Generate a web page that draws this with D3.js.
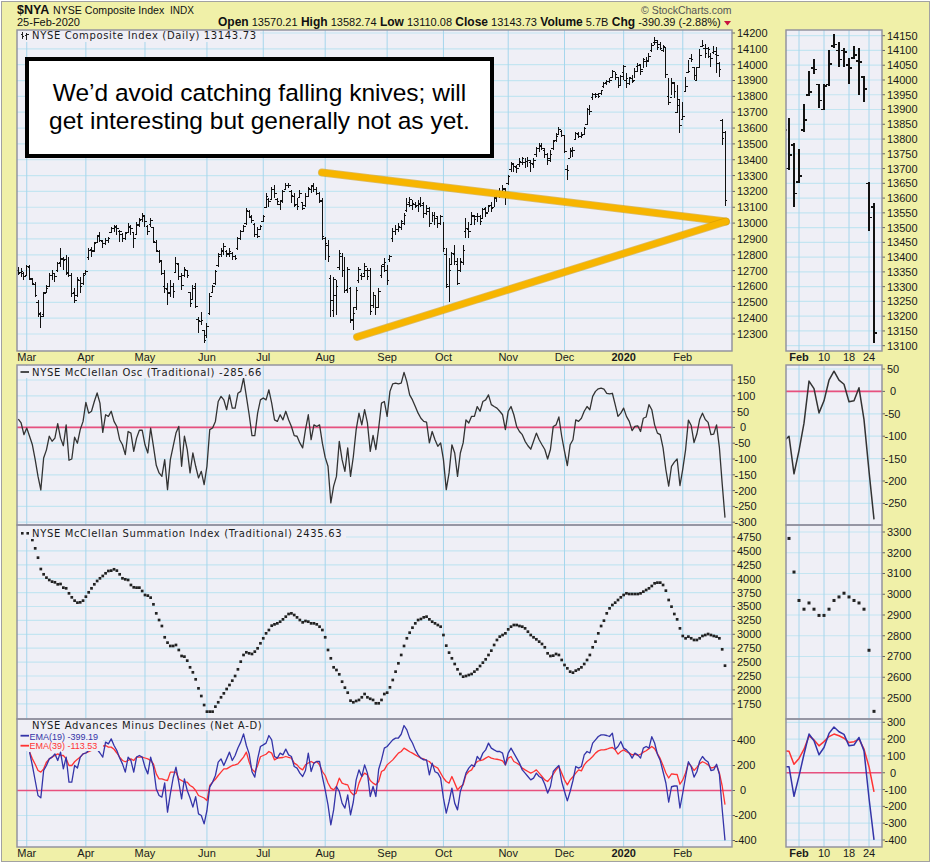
<!DOCTYPE html>
<html>
<head>
<meta charset="utf-8">
<title>$NYA NYSE Composite Index</title>
<script src="https://cdn.jsdelivr.net/npm/d3@7"></script>
<style>
  body { margin: 0; background: #fff; }
  text { font-family: Arial, "Liberation Sans", Helvetica, sans-serif; }
  .ptitle { font-family: "DejaVu Sans", Verdana, sans-serif; letter-spacing: 0.65px; }
</style>
</head>
<body>
<svg id="chart" width="932" height="865"></svg>
<script>
// ---------------- data ----------------
var holidays = ["2019-04-19", "2019-05-27", "2019-07-04", "2019-09-02", "2019-11-28",
                "2019-12-25", "2020-01-01", "2020-01-20", "2020-02-17"];

var priceOpen = [
12700,12690,12685,12670,12720,12645,12615,12500,12420,12420,
12560,12600,12670,12680,12700,12750,12770,12770,12690,12670,
12560,12540,12640,12620,12680,12780,12835,12825,12880,12920,
12885,12870,12890,12940,12965,12975,12950,12930,12905,12940,
12970,12940,12930,12990,13020,13040,12980,12990,12970,12880,
12820,12760,12600,12580,12560,12600,12690,12740,12660,12670,
12700,12560,12520,12600,12390,12380,12320,12290,12430,12560,
12620,12730,12800,12820,12820,12800,12810,12790,12840,12900,
12950,13000,13075,13035,12990,12930,12960,13010,13100,13150,
13150,13210,13150,13120,13140,13210,13235,13200,13170,13120,
13160,13130,13110,13170,13215,13235,13210,13190,13140,12900,
12860,12650,12450,12540,12720,12790,12700,12580,12590,12390,
12470,12640,12670,12680,12700,12700,12480,12540,12470,12670,
12740,12700,12770,12900,12950,12960,12970,13000,13080,13130,
13110,13120,13110,13125,13125,13060,13090,13000,13050,13040,
13000,13040,12800,12600,12740,12800,12740,12700,12750,12950,
12960,12990,13040,13040,13040,13030,13090,13070,13114,13100,
13160,13190,13180,13210,13250,13340,13370,13350,13370,13380,
13380,13390,13380,13370,13430,13470,13490,13460,13430,13410,
13470,13520,13560,13580,13550,13340,13410,13460,13530,13560,
13545,13560,13620,13720,13790,13810,13810,13815,13860,13890,
13893,13920,13960,13920,13870,13950,13900,13880,13910,13900,
13990,14000,13970,14020,14025,14090,14140,14140,14130,14090,
14110,13800,13790,13890,13700,13780,13655,13830,13950,14040,
13985,13900,13985,14115,14100,14100,14050,14075,14065,14010,
13650,13570.21];

var priceHigh = [
12725,12714,12693,12735,12735,12651,12630,12514,12441,12567,
12609,12683,12704,12683,12756,12840,12788,12798,12788,12683,
12588,12662,12662,12683,12704,12840,12851,12883,12925,12946,
12893,12904,12914,12977,12988,12988,12956,12935,12946,12998,
12988,12946,13009,13030,13061,13051,12988,13030,12977,12893,
12830,12767,12704,12620,12641,12620,12788,12746,12683,12725,
12704,12567,12609,12620,12409,12441,12325,12367,12556,12609,
12704,12809,12840,12872,12830,12840,12819,12798,12914,12956,
12988,13093,13082,13051,12998,12977,12988,13051,13188,13156,
13230,13240,13156,13146,13209,13251,13255,13209,13188,13156,
13209,13135,13188,13230,13240,13251,13230,13198,13156,12914,
12893,12672,12662,12641,12830,12809,12788,12725,12598,12472,
12598,12725,12683,12746,12714,12715,12567,12546,12588,12736,
12778,12736,12799,12967,12988,12999,13020,13062,13156,13167,
13146,13135,13146,13167,13135,13114,13104,13072,13072,13041,
13051,13009,12841,12778,12820,12862,12778,12778,12862,13030,
13009,13072,13051,13062,13051,13093,13104,13114,13135,13167,
13199,13220,13241,13220,13304,13388,13377,13367,13409,13419,
13409,13419,13398,13409,13483,13504,13504,13472,13440,13461,
13525,13567,13609,13588,13556,13367,13472,13483,13577,13577,
13577,13609,13724,13746,13819,13819,13819,13840,13893,13903,
13914,13966,13956,13924,13935,13998,13945,13924,13935,13977,
14009,13998,14040,14051,14072,14135,14177,14156,14145,14124,
14114,13914,13914,13893,13870,13785,13765,13920,14030,14070,
13985,13985,14100,14155,14130,14110,14075,14115,14110,14015,
13655,13582.74];

var priceLow = [
12672,12662,12641,12672,12641,12609,12535,12409,12335,12409,
12556,12598,12641,12630,12693,12725,12704,12672,12662,12535,
12493,12535,12556,12609,12672,12767,12788,12819,12872,12883,
12840,12861,12872,12935,12946,12925,12883,12883,12893,12935,
12925,12840,12925,12977,13009,12977,12925,12977,12872,12819,
12746,12672,12556,12483,12535,12525,12683,12641,12577,12662,
12651,12472,12514,12462,12304,12357,12241,12272,12420,12556,
12609,12725,12788,12798,12788,12788,12767,12767,12830,12893,
12946,12988,13030,12998,12914,12904,12956,13009,13093,13103,
13146,13156,13114,13082,13125,13209,13219,13125,13103,13082,
13156,13082,13103,13167,13188,13198,13177,13125,12893,12767,
12756,12409,12409,12420,12704,12662,12556,12556,12367,12325,
12451,12620,12641,12662,12641,12420,12462,12420,12462,12651,
12694,12609,12757,12883,12925,12946,12957,12988,13072,13104,
13083,13093,13072,13104,13030,13051,12978,13009,12988,12967,
12988,12820,12588,12504,12736,12736,12609,12694,12736,12904,
12904,12988,12988,13009,12988,13030,13041,13072,13072,13104,
13135,13156,13177,13114,13241,13325,13325,13314,13356,13367,
13346,13356,13325,13346,13419,13451,13461,13409,13367,13388,
13461,13514,13556,13546,13440,13272,13409,13419,13525,13535,
13535,13556,13619,13682,13777,13788,13788,13809,13851,13872,
13882,13914,13903,13851,13872,13903,13851,13872,13882,13914,
13956,13935,13977,13987,14019,14082,14124,14093,14093,14082,
13914,13746,13809,13788,13695,13570,13650,13825,13945,14020,
13905,13900,13980,14110,14045,14045,13985,14070,13950,13925,
13490,13110.08];

var priceClose = [
12683,12693,12662,12725,12651,12620,12546,12430,12409,12556,
12588,12672,12683,12662,12746,12777,12767,12683,12672,12556,
12514,12641,12598,12672,12693,12830,12819,12872,12914,12893,
12872,12893,12904,12967,12977,12967,12946,12904,12935,12977,
12967,12904,12988,13019,13051,13009,12946,13019,12883,12830,
12767,12683,12588,12556,12598,12567,12746,12662,12609,12704,
12672,12493,12588,12472,12388,12388,12262,12346,12535,12598,
12693,12788,12830,12851,12809,12819,12788,12777,12904,12946,
12977,13082,13040,13019,12925,12914,12977,13040,13167,13135,
13209,13188,13135,13135,13198,13240,13240,13177,13114,13103,
13188,13093,13167,13219,13230,13209,13188,13135,12914,12872,
12788,12514,12641,12600,12809,12700,12577,12704,12388,12430,
12577,12704,12662,12725,12662,12440,12546,12470,12570,12725,
12750,12640,12790,12946,12957,12980,13009,13051,13120,13146,
13125,13104,13120,13114,13062,13072,12999,13051,13030,12999,
13041,12841,12610,12700,12810,12757,12620,12757,12830,12967,
12946,13051,13020,13041,13009,13083,13062,13104,13093,13156,
13188,13177,13220,13160,13293,13377,13356,13346,13388,13409,
13388,13398,13377,13398,13472,13483,13472,13430,13398,13430,
13514,13546,13588,13556,13451,13335,13451,13461,13567,13546,
13556,13598,13714,13703,13809,13798,13800,13835,13880,13893,
13900,13960,13935,13870,13924,13990,13910,13920,13893,13956,
13998,13956,14030,14019,14051,14124,14150,14110,14100,14114,
13935,13760,13880,13830,13745,13615,13675,13865,13960,14035,
13930,13980,14055,14120,14070,14095,14040,14085,14060,13970,
13534.12,13143.73];

var mcclellanOsc = [
26,14,-23,-2,-28,-55,-102,-155,-198,-97,
-71,-28,-44,-34,12,-34,-58,8,-104,-100,
-31,-50,-7,19,79,45,51,82,109,77,
-16,40,35,51,19,3,-39,-55,-86,-13,
-18,-76,-34,-9,-9,-55,-81,-2,-60,-120,
-144,-155,-102,-197,-102,-60,-18,3,-123,-28,
-70,-144,-81,-123,-160,-139,-181,-123,-7,-2,
19,82,98,87,56,103,61,61,108,114,
156,98,40,-26,-26,45,87,93,87,119,
77,24,19,40,24,51,24,3,-26,-28,
-49,-65,-7,40,-39,8,3,8,-50,-95,
-123,-239,-186,-155,-44,-102,-139,-65,-155,-92,
-7,45,8,56,14,-76,-25,-70,-2,77,
82,35,114,138,140,138,140,174,145,103,
87,66,45,29,19,17,-49,-13,-39,-60,
-49,-102,-197,-144,-55,-81,-155,-81,-49,24,
14,35,35,66,51,82,87,103,72,66,
61,51,40,-7,51,66,40,3,-13,-23,
-44,-58,-69,-44,-18,-39,-55,-70,-100,-70,
3,8,33,-28,-76,-121,-55,-39,24,19,
29,51,66,56,98,114,122,124,121,108,
106,108,72,35,45,61,35,19,-10,3,
5,-13,29,33,72,56,8,-18,-23,-65,
-134,-186,-123,-110,-100,-184,-132,-71,23,6,
-48,-21,25,45,25,16,-23,-21,8,-63,
-178,-285.66];

var summationIndex = [
null,null,null,null,null,4696,4546,4378,4174,4079,
4019,3977,3947,3935,3899,3905,3839,3827,3737,3665,
3605,3569,3575,3605,3677,3755,3827,3899,3959,4007,
4049,4097,4139,4145,4169,4145,4079,4007,3989,3977,
3887,3845,3839,3839,3779,3707,3695,3659,3539,3377,
3257,3149,2946,2850,2790,2790,2808,2718,2610,2598,
2526,2406,2316,2190,2028,1890,1728,1609,1609,1609,
1699,1777,1867,1938,2016,2088,2166,2250,2370,2508,
2628,2676,2658,2646,2688,2748,2838,2928,3017,3077,
3155,3179,3197,3227,3269,3317,3365,3377,3347,3305,
3257,3215,3239,3227,3197,3197,3179,3137,3077,2946,
2718,2568,2406,2358,2280,2148,2040,1950,1806,1777,
1801,1819,1867,1926,1867,1840,1819,1759,1759,1819,
1926,1950,2046,2178,2328,2478,2628,2790,2928,3029,
3119,3197,3257,3275,3305,3317,3269,3227,3197,3167,
3137,2987,2796,2670,2568,2466,2370,2286,2238,2250,
2268,2286,2328,2370,2430,2490,2550,2628,2706,2808,
2898,2958,2987,3017,3089,3137,3167,3167,3149,3137,
3107,3047,2987,2946,2910,2868,2826,2766,2658,2610,
2616,2646,2628,2538,2448,2388,2328,2310,2346,2370,
2406,2466,2538,2628,2766,2868,3017,3149,3245,3377,
3467,3527,3569,3617,3665,3707,3737,3725,3725,3725,
3725,3737,3767,3797,3827,3869,3917,3929,3929,3887,
3785,3617,3497,3365,3269,3107,2970,2928,2958,2928,
2898,2898,2928,2970,2987,3005,2987,2970,2958,2928,
2730,2435.63];

var adEma19 = [
null,null,null,null,307,200,80,-40,-59,160,
200,253,267,293,240,307,173,267,67,67,
200,180,267,293,300,320,330,340,330,300,
267,387,373,413,360,320,260,213,147,267,
240,147,267,280,267,187,133,267,187,13,
-40,-53,60,-173,-27,100,187,67,-67,93,
0,-60,-133,-50,-187,-200,-267,-160,27,67,
120,227,253,200,253,307,240,280,340,387,
453,360,293,150,107,253,352,365,379,440,
405,272,259,299,285,331,285,272,192,179,
139,112,160,299,152,219,232,232,110,5,
-115,-275,-155,32,-8,-101,-141,-35,-195,-90,
85,165,112,205,139,-48,32,-48,170,245,
339,352,379,405,419,420,450,520,485,419,
380,325,285,259,245,245,125,219,150,139,
99,-61,-181,-88,19,-101,-155,-8,59,139,
179,205,192,272,245,299,325,379,339,325,
312,312,299,205,299,339,299,259,219,165,
139,112,85,99,139,112,99,50,-21,32,
152,179,200,72,-8,-83,-8,80,192,179,
192,285,312,300,379,405,432,445,445,440,
432,459,330,352,392,339,325,299,259,299,
285,259,339,352,339,430,380,290,240,150,
60,-93,30,36,36,-140,-20,110,230,190,
107,150,234,272,244,228,160,165,210,130,
-150,-399.19];

var adEma39 = [
null,null,null,null,307,253,210,160,147,173,
227,253,267,280,293,280,280,253,200,200,
230,250,267,293,300,310,320,330,340,350,
355,360,347,347,330,300,267,240,230,240,
253,240,267,267,267,260,253,240,213,133,
93,93,85,80,147,147,147,93,80,67,
67,40,27,0,-40,-50,-60,-80,40,67,
90,120,147,173,173,187,200,205,213,240,
267,307,227,170,147,200,270,280,290,312,
299,245,259,262,264,272,265,259,219,205,
179,165,205,220,232,219,232,205,152,120,
60,19,5,32,99,59,50,45,-10,-35,
-21,59,112,139,125,80,59,45,72,152,
165,205,225,245,272,299,312,339,325,310,
299,285,272,259,253,240,232,205,192,179,
139,100,72,59,112,59,5,30,45,125,
152,165,205,232,240,245,259,272,259,253,
250,245,237,205,259,272,232,220,205,179,
165,152,139,150,165,139,112,85,72,99,
130,165,192,139,85,45,85,110,139,165,
157,205,232,250,272,299,317,325,325,330,
339,344,325,291,312,325,310,299,285,291,
280,290,307,318,335,352,335,295,255,200,
140,100,133,130,128,50,85,140,219,195,
160,185,215,230,220,205,180,185,200,140,
36,-113.53];

// trend lines drawn on the price panel: [trading-day index, price]
var trendLines = [
  [[107.85, 13320], [251.3, 13010]],
  [[120.3, 12281], [251.3, 13010]]
];

// axis tick labels
var priceTicks = [12300,12400,12500,12600,12700,12800,12900,13000,13100,13200,13300,13400,13500,13600,13700,13800,13900,14000,14100,14200];
var priceZoomTicks = [13100,13150,13200,13250,13300,13350,13400,13450,13500,13550,13600,13650,13700,13750,13800,13850,13900,13950,14000,14050,14100,14150];
var oscTicks = [-300,-250,-200,-150,-100,-50,0,50,100,150];
var oscZoomTicks = [-250,-200,-150,-100,-50,0,50];
var sumTicks = [1750,2000,2250,2500,2750,3000,3250,3500,3750,4000,4250,4500,4750];
var sumZoomTicks = [2500,2600,2700,2800,2900,3000,3100,3200,3300];
var adTicks = [-400,-200,0,200,400];
var adZoomTicks = [-400,-300,-200,-100,0,100,200,300];

var annotationLines = ["We\u2019d avoid catching falling knives; will",
                       "get interesting but generally not as yet."];

// ---------------- drawing ----------------
var YELLOW = "#f0f0a8", PANEL = "#efeff6", GRID = "#c4e5f1", VGRID = "#a6d6ec",
    BORDER = "#8e8e9c", ZERO = "#e8507e", INK = "#1a1a1a";

var locale = d3.formatLocale({ decimal: ".", thousands: ",", grouping: [3], currency: ["$", ""], minus: "-" });
var f2 = locale.format(".2f");

var svg = d3.select("#chart");
svg.append("rect").attr("width", 932).attr("height", 865).attr("fill", "#fff");
svg.append("rect").attr("x", 1.5).attr("y", 1.5).attr("width", 928).attr("height", 860)
  .attr("fill", YELLOW).attr("stroke", "#a2a2a2");

var N = priceClose.length;
var fmtDay = d3.timeFormat("%Y-%m-%d");
var days = d3.timeDay.range(new Date(2019, 1, 26), new Date(2020, 1, 26)).filter(function (d) {
  return d.getDay() > 0 && d.getDay() < 6 && holidays.indexOf(fmtDay(d)) < 0;
});

var xMain = d3.scaleLinear().domain([0, N - 1]).range([18.3, 725]);
var xZoom = d3.scaleLinear().domain([N - 21, N - 1]).range([774, 874]);
var mainL = 17, mainR = 732, zoomL = 786, zoomR = 882;

var monthIdx = d3.range(1, N).filter(function (i) { return days[i].getMonth() !== days[i - 1].getMonth(); });
var weekIdx = d3.range(1, N).filter(function (i) {
  return days[i].getDay() < days[i - 1].getDay() && xZoom(i) > zoomL;
});

var rows = [
  { key: "price", top: 30, bottom: 351,
    mainY: d3.scaleLinear().domain([12300, 14200]).range([334, 33]),
    zoomY: d3.scaleLinear().domain([13100, 14150]).range([345.7, 35.7]),
    mainTicks: priceTicks, zoomTicks: priceZoomTicks },
  { key: "osc", top: 365, bottom: 525,
    mainY: d3.scaleLinear().domain([-300, 150]).range([522.2, 380]),
    zoomY: d3.scaleLinear().domain([-250, 50]).range([503.4, 369]),
    mainTicks: oscTicks, zoomTicks: oscZoomTicks },
  { key: "sum", top: 525, bottom: 719,
    mainY: d3.scaleLinear().domain([1750, 4750]).range([703.8, 537]),
    zoomY: d3.scaleLinear().domain([2500, 3300]).range([698, 532]),
    mainTicks: sumTicks, zoomTicks: sumZoomTicks },
  { key: "ad", top: 719, bottom: 847,
    mainY: d3.scaleLinear().domain([-400, 400]).range([840.5, 740.5]),
    zoomY: d3.scaleLinear().domain([-400, 300]).range([840, 722.3]),
    mainTicks: adTicks, zoomTicks: adZoomTicks }
];

function makePanel(id, x0, x1, y0, y1, ys, ticks, vIdx, xs) {
  svg.append("clipPath").attr("id", id).append("rect")
    .attr("x", x0).attr("y", y0).attr("width", x1 - x0).attr("height", y1 - y0);
  svg.append("rect").attr("x", x0).attr("y", y0).attr("width", x1 - x0).attr("height", y1 - y0)
    .attr("fill", PANEL);
  var grid = svg.append("g").attr("clip-path", "url(#" + id + ")");
  grid.selectAll("line.h").data(ticks).enter().append("line").attr("class", "h")
    .attr("x1", x0).attr("x2", x1)
    .attr("y1", function (d) { return ys(d); }).attr("y2", function (d) { return ys(d); })
    .attr("stroke", GRID).attr("stroke-width", 1.2);
  grid.selectAll("line.v").data(vIdx).enter().append("line").attr("class", "v")
    .attr("x1", function (d) { return xs(d); }).attr("x2", function (d) { return xs(d); })
    .attr("y1", y0).attr("y2", y1)
    .attr("stroke", VGRID).attr("stroke-width", 1);
  var ax = svg.append("g");
  ax.selectAll("line").data(ticks).enter().append("line")
    .attr("x1", x1).attr("x2", x1 + 3)
    .attr("y1", function (d) { return ys(d); }).attr("y2", function (d) { return ys(d); })
    .attr("stroke", "#666");
  ax.selectAll("text").data(ticks).enter().append("text")
    .attr("x", function (d) { return x1 + 5 + (d < 0 ? -2.5 : 0) + (d === 0 ? 3 : 0); })
    .attr("y", function (d) { return ys(d); })
    .attr("dy", "0.36em").attr("font-size", 11).attr("fill", INK)
    .text(function (d) { return d; });
  return svg.append("g").attr("clip-path", "url(#" + id + ")");
}

rows.forEach(function (r) {
  r.mainG = makePanel("clip-m-" + r.key, mainL, mainR, r.top, r.bottom, r.mainY, r.mainTicks, monthIdx, xMain);
  r.zoomG = makePanel("clip-z-" + r.key, zoomL, zoomR, r.top, r.bottom, r.zoomY, r.zoomTicks, weekIdx, xZoom);
});

// ---- price bars ----
function drawBars(g, xs, ys, sw, tk) {
  var idx = d3.range(N);
  var b = g.append("g").attr("stroke", "#111").attr("stroke-width", sw).attr("shape-rendering", "crispEdges");
  b.selectAll("line.hl").data(idx).enter().append("line")
    .attr("x1", function (i) { return xs(i); }).attr("x2", function (i) { return xs(i); })
    .attr("y1", function (i) { return ys(priceHigh[i]); }).attr("y2", function (i) { return ys(priceLow[i]); });
  b.selectAll("line.o").data(idx).enter().append("line")
    .attr("x1", function (i) { return xs(i) - tk; }).attr("x2", function (i) { return xs(i); })
    .attr("y1", function (i) { return ys(priceOpen[i]); }).attr("y2", function (i) { return ys(priceOpen[i]); });
  b.selectAll("line.c").data(idx).enter().append("line")
    .attr("x1", function (i) { return xs(i); }).attr("x2", function (i) { return xs(i) + tk; })
    .attr("y1", function (i) { return ys(priceClose[i]); }).attr("y2", function (i) { return ys(priceClose[i]); });
}
drawBars(rows[0].mainG, xMain, rows[0].mainY, 1, 2);
drawBars(rows[0].zoomG, xZoom, rows[0].zoomY, 1.6, 3);

// ---- lines ----
function drawSeries(g, xs, ys, values, color, width) {
  var line = d3.line()
    .defined(function (d) { return d != null; })
    .x(function (d, i) { return xs(i); })
    .y(function (d) { return ys(d); });
  g.append("path").datum(values).attr("d", line)
    .attr("fill", "none").attr("stroke", color).attr("stroke-width", width)
    .attr("stroke-linejoin", "round");
}
function zeroLine(g, x0, x1, ys) {
  g.append("line").attr("x1", x0).attr("x2", x1).attr("y1", ys(0)).attr("y2", ys(0))
    .attr("stroke", ZERO).attr("stroke-width", 1.6);
}

zeroLine(rows[1].mainG, mainL, mainR, rows[1].mainY);
zeroLine(rows[1].zoomG, zoomL, zoomR, rows[1].zoomY);
drawSeries(rows[1].mainG, xMain, rows[1].mainY, mcclellanOsc, "#333", 1.3);
drawSeries(rows[1].zoomG, xZoom, rows[1].zoomY, mcclellanOsc, "#333", 1.5);

function drawDots(g, xs, ys, s) {
  var idx = d3.range(N).filter(function (i) { return summationIndex[i] != null; });
  g.selectAll("rect.dot").data(idx).enter().append("rect")
    .attr("x", function (i) { return xs(i) - s / 2; })
    .attr("y", function (i) { return ys(summationIndex[i]) - s / 2; })
    .attr("width", s).attr("height", s).attr("fill", "#222");
}
drawDots(rows[2].mainG, xMain, rows[2].mainY, 2.7);
drawDots(rows[2].zoomG, xZoom, rows[2].zoomY, 3);

zeroLine(rows[3].mainG, mainL, mainR, rows[3].mainY);
zeroLine(rows[3].zoomG, zoomL, zoomR, rows[3].zoomY);
drawSeries(rows[3].mainG, xMain, rows[3].mainY, adEma39, "#ff3333", 1.3);
drawSeries(rows[3].mainG, xMain, rows[3].mainY, adEma19, "#3434a8", 1.3);
drawSeries(rows[3].zoomG, xZoom, rows[3].zoomY, adEma39, "#ff3333", 1.5);
drawSeries(rows[3].zoomG, xZoom, rows[3].zoomY, adEma19, "#3434a8", 1.5);

// ---- trend lines ----
var tl = rows[0].mainG.append("g");
trendLines.forEach(function (seg) {
  tl.append("line")
    .attr("x1", xMain(seg[0][0])).attr("y1", rows[0].mainY(seg[0][1]))
    .attr("x2", xMain(seg[1][0])).attr("y2", rows[0].mainY(seg[1][1]))
    .attr("stroke", "#c99400").attr("stroke-width", 8).attr("stroke-linecap", "round").attr("opacity", 0.55);
  tl.append("line")
    .attr("x1", xMain(seg[0][0])).attr("y1", rows[0].mainY(seg[0][1]))
    .attr("x2", xMain(seg[1][0])).attr("y2", rows[0].mainY(seg[1][1]))
    .attr("stroke", "#f7b500").attr("stroke-width", 6.5).attr("stroke-linecap", "round");
});

// ---- panel borders ----
rows.forEach(function (r) {
  [[mainL, mainR], [zoomL, zoomR]].forEach(function (s) {
    svg.append("rect").attr("x", s[0]).attr("y", r.top).attr("width", s[1] - s[0]).attr("height", r.bottom - r.top)
      .attr("fill", "none").attr("stroke", BORDER).attr("stroke-width", 1.4);
  });
});

// ---- panel titles ----
function titleText(x, y, str, size, color, cls) {
  return svg.append("text").attr("class", cls).attr("x", x).attr("y", y)
    .attr("font-size", size).attr("fill", color).text(str);
}
function titleBg(x0, y0, x1, y1) {
  svg.append("rect").attr("x", x0).attr("y", y0).attr("width", x1 - x0).attr("height", y1 - y0).attr("fill", PANEL);
}

titleBg(18, 31, 260, 42);
var pi = svg.append("g").attr("stroke", "#222").attr("stroke-width", 1).attr("shape-rendering", "crispEdges");
pi.append("line").attr("x1", 22.5).attr("x2", 22.5).attr("y1", 32).attr("y2", 39);
pi.append("line").attr("x1", 20.5).attr("x2", 22.5).attr("y1", 34.5).attr("y2", 34.5);
pi.append("line").attr("x1", 22.5).attr("x2", 24).attr("y1", 36.5).attr("y2", 36.5);
pi.append("line").attr("x1", 26.5).attr("x2", 26.5).attr("y1", 33).attr("y2", 40);
pi.append("line").attr("x1", 25).attr("x2", 26.5).attr("y1", 35.5).attr("y2", 35.5);
pi.append("line").attr("x1", 26.5).attr("x2", 28.5).attr("y1", 34).attr("y2", 34);
titleText(32, 39, "NYSE Composite Index (Daily) " + f2(priceClose[N - 1]), 10, INK, "ptitle");

titleBg(18, 366, 262, 378);
svg.append("line").attr("x1", 20.5).attr("x2", 29).attr("y1", 372).attr("y2", 372).attr("stroke", "#222").attr("stroke-width", 1.6);
titleText(32, 375.7, "NYSE McClellan Osc (Traditional) " + f2(mcclellanOsc[N - 1]), 10, INK, "ptitle");

titleBg(18, 526, 346, 539);
[22.3, 27.7].forEach(function (x) {
  svg.append("rect").attr("x", x - 1.3).attr("y", 532).attr("width", 2.6).attr("height", 2.6).attr("fill", "#222");
});
titleText(32, 536.7, "NYSE McClellan Summation Index (Traditional) " + f2(summationIndex[N - 1]), 10, INK, "ptitle");

titleBg(18, 720, 260, 731);
titleBg(18, 731, 103, 751);
titleText(32, 729.3, "NYSE Advances Minus Declines (Net A-D)", 10, INK, "ptitle");
svg.append("line").attr("x1", 20.5).attr("x2", 29).attr("y1", 735.7).attr("y2", 735.7).attr("stroke", "#3434a8").attr("stroke-width", 1.8);
titleText(29.5, 739.5, "EMA(19) " + f2(adEma19[N - 1]), 9, "#3434a8", "ltitle")
  .attr("font-family", "'DejaVu Sans', Verdana, sans-serif");
svg.append("line").attr("x1", 20.5).attr("x2", 29).attr("y1", 745.7).attr("y2", 745.7).attr("stroke", "#ff3333").attr("stroke-width", 1.8);
titleText(29.5, 749.3, "EMA(39) " + f2(adEma39[N - 1]), 9, "#ff3333", "ltitle")
  .attr("font-family", "'DejaVu Sans', Verdana, sans-serif");

// ---- date labels ----
var fmtMon = d3.timeFormat("%b"), fmtYear = d3.timeFormat("%Y"), fmtDate = d3.timeFormat("%-d");
[361, 857].forEach(function (y) {
  svg.append("g").selectAll("text").data(monthIdx).enter().append("text")
    .attr("x", function (i) { return xMain(i); }).attr("y", y)
    .attr("text-anchor", "middle").attr("font-size", 11).attr("fill", INK)
    .attr("font-weight", function (i) { return days[i].getMonth() === 0 ? "bold" : "normal"; })
    .text(function (i) { return days[i].getMonth() === 0 ? fmtYear(days[i]) : fmtMon(days[i]); });
  svg.append("g").selectAll("text").data(weekIdx).enter().append("text")
    .attr("x", function (i) { return xZoom(i); }).attr("y", y)
    .attr("text-anchor", "middle").attr("font-size", 11).attr("fill", INK)
    .attr("font-weight", function (i) { return days[i].getMonth() !== days[i - 1].getMonth() ? "bold" : "normal"; })
    .text(function (i) { return days[i].getMonth() !== days[i - 1].getMonth() ? fmtMon(days[i]) : fmtDate(days[i]); });
});

// ---- header ----
var last = N - 1;
var chg = priceClose[last] - priceClose[last - 1];
var pct = chg / priceClose[last - 1] * 100;
svg.append("text").attr("x", 17).attr("y", 14).attr("font-size", 12.5).attr("font-weight", "bold").attr("fill", "#111").text("$NYA");
svg.append("text").attr("x", 53).attr("y", 14).attr("font-size", 10.6).attr("fill", "#111").text("NYSE Composite Index");
svg.append("text").attr("x", 170).attr("y", 14).attr("font-size", 10).attr("fill", "#111").text("INDX");
svg.append("text").attr("x", 17).attr("y", 26).attr("font-size", 11).attr("fill", "#111")
  .text(d3.timeFormat("%d-%b-%Y")(days[last]));
svg.append("text").attr("x", 641).attr("y", 14).attr("font-size", 10.5).attr("fill", "#555").text("\u00a9 StockCharts.com");

var quote = [
  ["Open", f2(priceOpen[last])], ["High", f2(priceHigh[last])], ["Low", f2(priceLow[last])],
  ["Close", f2(priceClose[last])], ["Volume", "5.7B"], ["Chg", f2(chg) + " (" + f2(pct) + "%)"]
];
var qt = svg.append("text").attr("x", 218).attr("y", 26).attr("fill", "#111");
quote.forEach(function (q, k) {
  qt.append("tspan").attr("font-weight", "bold").attr("font-size", 12).text((k ? " " : "") + q[0]);
  qt.append("tspan").attr("font-size", 11).text(" " + q[1]);
});
svg.append("path").attr("d", "M724,21 L731,21 L727.5,25.5 Z").attr("fill", "#c8123e");

// ---- annotation box ----
svg.append("rect").attr("x", 27).attr("y", 59).attr("width", 465).attr("height", 97)
  .attr("fill", "#fff").attr("stroke", "#000").attr("stroke-width", 4);
annotationLines.forEach(function (s, k) {
  svg.append("text").attr("x", 259.5).attr("y", 101 + k * 27.5)
    .attr("text-anchor", "middle").attr("font-size", 24.5).attr("fill", "#000")
    .attr("font-family", "Helvetica, Arial, 'Liberation Sans', sans-serif").text(s);
});
</script>
</body>
</html>
